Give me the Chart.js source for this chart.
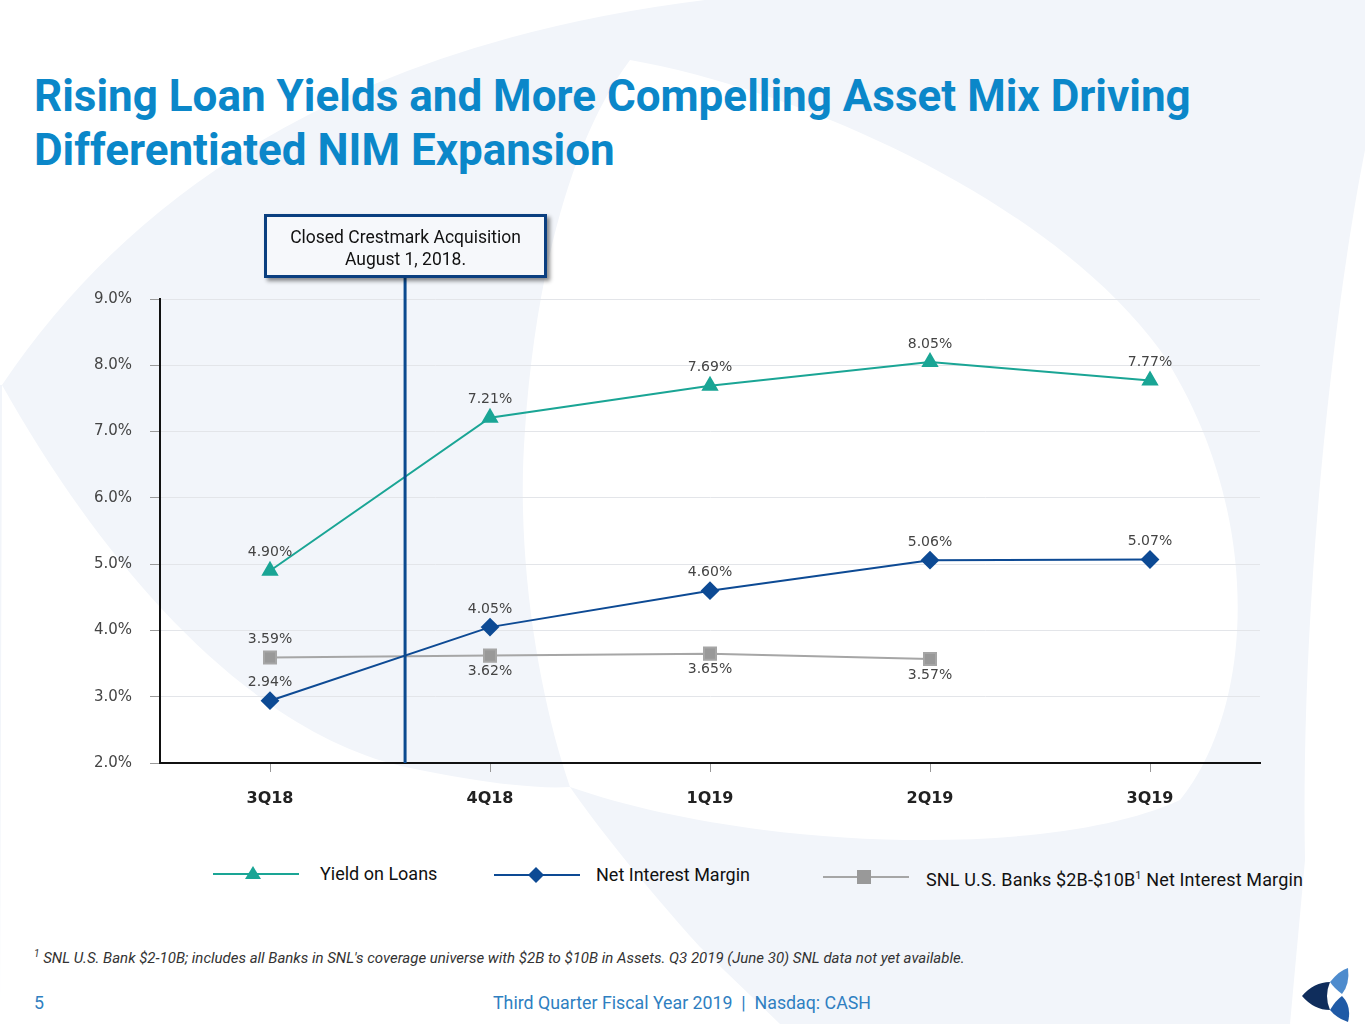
<!DOCTYPE html>
<html>
<head>
<meta charset="utf-8">
<script src="https://cdn.jsdelivr.net/npm/chart.js@4.4.1/dist/chart.umd.min.js"></script>
<style>
  body { margin: 0; width: 1365px; height: 1024px; position: relative; overflow: hidden; background: #f2f5fa; font-family: "Liberation Sans", Arial, sans-serif; }
  #bg { position: absolute; left: 0; top: 0; }
  .title { position: absolute; left: 34px; top: 69px; color: #0b87c9; font-family: "Liberation Sans Narrow", "Roboto", sans-serif; font-weight: bold; font-size: 44px; line-height: 54px; }
  #wrap { position: absolute; left: 0; top: 202px; width: 1300px; height: 620px; }
  .box { position: absolute; left: 264px; top: 214px; width: 277px; border: 3px solid #0b3f80; background: #f6f8fb; box-shadow: 3px 3px 4px rgba(0,0,0,0.45); text-align: center; font-family: Roboto, sans-serif; font-size: 17.5px; line-height: 22px; color: #111; padding-top: 9px; height: 49px; }
  .leg { position: absolute; font-family: Roboto, sans-serif; font-size: 18px; color: #111; white-space: nowrap; }
  .leg svg { position: absolute; }
  .foot { position: absolute; left: 34px; top: 948px; font-family: Roboto, sans-serif; font-style: italic; font-size: 15px; color: #333; white-space: nowrap; }
  .foot sup { font-size: 10px; }
  .pg { position: absolute; top: 992px; font-family: Roboto, sans-serif; font-size: 17.8px; color: #2f7fc1; white-space: nowrap; }
</style>
</head>
<body>
<svg id="bg" width="1365" height="1024">
  <path d="M0,0 L705,0 Q220,60 2,385 L0,385 Z" fill="#fff"/>
  <path d="M2,385 C100,560 250,740 420,770 Q520,790 570,787 C600,830 640,880 700,947 L780,1024 L0,1024 Z" fill="#fff"/>
  <path d="M570,787 C540,700 515,560 525,430 C535,280 570,140 630,60 C800,90 1050,200 1160,350 C1260,500 1260,700 1180,800 C1050,860 750,850 570,787 Z" fill="#fff"/>
  <path d="M1365,150 C1335,300 1300,600 1305,860 L1290,1024 L1365,1024 Z" fill="#fff"/>
</svg>

<div class="title">Rising Loan Yields and More Compelling Asset Mix Driving<br>Differentiated NIM Expansion</div>

<div id="wrap"><canvas id="chart" width="1300" height="620"></canvas></div>

<div class="box">Closed Crestmark Acquisition<br>August 1, 2018.</div>

<div class="leg" style="left:213px; top:864px;">
  <svg width="86" height="20" style="left:0; top:0;"><line x1="0" y1="10" x2="86" y2="10" stroke="#1aa595" stroke-width="2"/><polygon points="40,2 48,15 32,15" fill="#1aa595"/></svg>
  <span style="position:absolute; left:107px; top:-1px;">Yield on Loans</span>
</div>
<div class="leg" style="left:494px; top:865px;">
  <svg width="86" height="20" style="left:0; top:0;"><line x1="0" y1="10" x2="86" y2="10" stroke="#0d4a94" stroke-width="2"/><polygon points="42,2 50,10 42,18 34,10" fill="#0d4a94"/></svg>
  <span style="position:absolute; left:102px; top:-1px;">Net Interest Margin</span>
</div>
<div class="leg" style="left:823px; top:867px;">
  <svg width="86" height="20" style="left:0; top:0;"><line x1="0" y1="10" x2="86" y2="10" stroke="#a6a6a6" stroke-width="2"/><rect x="34" y="3" width="14" height="14" fill="#999"/></svg>
  <span style="position:absolute; left:103px; top:2px; letter-spacing:0.15px;">SNL U.S. Banks $2B-$10B<sup style="font-size:11px;">1</sup> Net Interest Margin</span>
</div>

<div class="foot"><sup>1</sup> SNL U.S. Bank $2-10B; includes all Banks in SNL's coverage universe with $2B to $10B in Assets. Q3 2019 (June 30) SNL data not yet available.</div>

<div class="pg" style="left:34px;">5</div>
<div class="pg" style="left:493px;">Third Quarter Fiscal Year 2019 &nbsp;|&nbsp; Nasdaq: CASH</div>

<svg width="52" height="56" style="position:absolute; left:1300px; top:966px;">
  <path d="M2,30 Q14,16 30,16 Q24,30 30,44 Q14,44 2,30 Z" fill="#0f2d5c"/>
  <path d="M30,16 Q40,4 48,2 Q50,18 42,28 Q34,22 30,16 Z" fill="#4d8bcd"/>
  <path d="M30,44 Q36,34 42,30 Q52,40 48,56 Q36,52 30,44 Z" fill="#1f5aa6"/>
</svg>

<script>
const quarters = ['3Q18', '4Q18', '1Q19', '2Q19', '3Q19']
const yieldOnLoans = [4.90, 7.21, 7.69, 8.05, 7.77]
const netInterestMargin = [2.94, 4.05, 4.60, 5.06, 5.07]
const snlMargin = [3.59, 3.62, 3.65, 3.57, null]
// Aug 1 2018 sits a bit past halfway between 3Q18 and 4Q18
const acquisitionAt = 0.614

const valueLabels = {
    id: 'valueLabels',
    afterDatasetsDraw(chart) {
        const ctx = chart.ctx
        ctx.save()
        ctx.font = '14px "DejaVu Sans", sans-serif'
        ctx.fillStyle = '#444'
        ctx.textAlign = 'center'
        ctx.textBaseline = 'middle'
        chart.data.datasets.forEach((ds, i) => {
            const meta = chart.getDatasetMeta(i)
            meta.data.forEach((pt, j) => {
                const v = ds.data[j]
                if (v == null) return
                const below = ds.below && ds.below.includes(j)
                ctx.fillText(v.toFixed(2) + '%', pt.x, pt.y + (below ? 16 : -18))
            })
        })
        ctx.restore()
    }
}

const acquisitionLine = {
    id: 'acquisitionLine',
    afterDatasetsDraw(chart) {
        const x = chart.scales.x
        const px = x.getPixelForValue(0) + acquisitionAt * (x.getPixelForValue(1) - x.getPixelForValue(0))
        const ctx = chart.ctx
        ctx.save()
        ctx.strokeStyle = '#0b4a8f'
        ctx.lineWidth = 3
        ctx.beginPath()
        ctx.moveTo(px, 73)
        ctx.lineTo(px, chart.chartArea.bottom)
        ctx.stroke()
        ctx.restore()
    }
}

const ctx = document.getElementById('chart')

var myChart = new Chart(ctx, {
    type: 'line',
    data: {
        labels: quarters,
        datasets: [{
            label: 'Yield on Loans',
            data: yieldOnLoans,
            borderColor: '#1aa595',
            backgroundColor: '#1aa595',
            borderWidth: 2,
            pointStyle: 'triangle',
            pointRadius: 8,
            tension: 0
        }, {
            label: 'Net Interest Margin',
            data: netInterestMargin,
            borderColor: '#0d4a94',
            backgroundColor: '#0d4a94',
            borderWidth: 2,
            pointStyle: 'rectRot',
            pointRadius: 8,
            tension: 0
        }, {
            label: 'SNL U.S. Banks $2B-$10B Net Interest Margin',
            data: snlMargin,
            borderColor: '#a6a6a6',
            backgroundColor: '#999999',
            borderWidth: 2,
            pointStyle: 'rect',
            pointRadius: 8.5,
            below: [1, 2, 3],
            tension: 0
        }]
    },
    options: {
        responsive: false,
        maintainAspectRatio: false,
        animation: false,
        layout: { padding: { top: 97, right: 40, bottom: 0, left: 0 } },
        plugins: {
            legend: { display: false },
            tooltip: { enabled: false }
        },
        scales: {
            x: {
                offset: true,
                afterFit: (s) => { s.height = 59 },
                border: { color: '#111', width: 2 },
                grid: { offset: false, drawOnChartArea: false, drawTicks: true, tickLength: 9, tickColor: '#999' },
                ticks: { color: '#222', padding: 17, font: { family: '"DejaVu Sans", sans-serif', size: 16, weight: 'bold' } }
            },
            y: {
                min: 2,
                max: 9,
                afterFit: (s) => { s.width = 160 },
                border: { color: '#111', width: 2 },
                grid: { color: '#e3e5e9', tickLength: 10, tickColor: '#999' },
                ticks: {
                    stepSize: 1,
                    color: '#444',
                    padding: 18,
                    font: { family: '"DejaVu Sans", sans-serif', size: 15 },
                    callback: (v) => v.toFixed(1) + '%'
                }
            }
        }
    },
    plugins: [valueLabels, acquisitionLine]
})
</script>
</body>
</html>
